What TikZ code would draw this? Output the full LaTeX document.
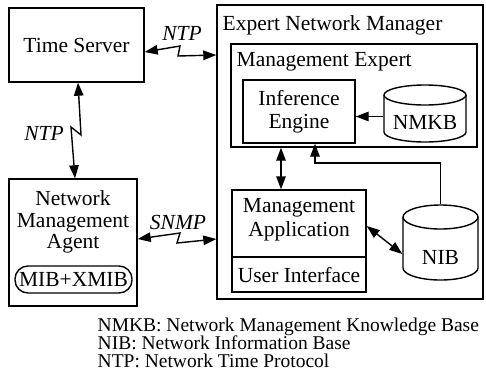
\documentclass[tikz,border=0pt]{standalone}
\usepackage{fontspec}
\setmainfont{Liberation Serif}
\usetikzlibrary{arrows.meta,calc}
\begin{document}
\begin{tikzpicture}[x=1pt,y=-1pt,line width=1.4pt,
  box/.style={draw, inner sep=0pt, line width=1.4pt, align=center,
              font=\fontsize{21.5}{23}\selectfont},
  lbl/.style={font=\fontsize{21.5}{23}\selectfont, align=center, inner sep=0pt},
  proto/.style={font=\fontsize{21.5}{23}\selectfont\itshape, inner sep=0pt},
  legend/.style={font=\fontsize{19.5}{18}\selectfont, anchor=base west, inner sep=0pt},
  tip/.tip={Triangle[length=13pt,width=9.5pt]},
  dbl/.style={tip-tip},
  one/.style={-tip},
]
\useasboundingbox (0,0) rectangle (486,375);

% left column
\node[box, minimum width=135, minimum height=74] (ts) at (76.5,45) {Time Server};
\node[box, minimum width=128, minimum height=127] (nma) at (73,242.5) {};
\node[lbl, font=\fontsize{21.5}{21.5}\selectfont] (nmatxt) at (73,222) {Network\\Management\\Agent};
\node[box, rounded corners=13, minimum width=117, minimum height=27] (mib) at (73.5,279.5) {MIB+XMIB};

% expert network manager
\node[box, minimum width=266, minimum height=294] (enm) at (350,152) {};
\node[lbl, anchor=west] (enmtitle) at (222,25) {Expert Network Manager};
\node[box, minimum width=246, minimum height=103] (me) at (354,95.5) {};
\node[lbl, anchor=west] (metitle) at (236,62) {Management Expert};
\node[box, minimum width=112, minimum height=63] (ie) at (299,111.5) {Inference\\Engine};

% management application with user interface strip
\node[box, minimum width=134, minimum height=102] (ma) at (299,241) {};
\node[lbl, font=\fontsize{21.5}{24}\selectfont] (matxt) at (299,220) {Management\\Application};
\draw (ma.west |- 0,257) -- (ma.east |- 0,257);
\node[lbl] (uitxt) at (299,275) {User Interface};

% NMKB cylinder
\node[inner sep=0pt, minimum width=82, minimum height=57] (nmkb) at (425,113.5) {};
\draw (425,95) ellipse [x radius=41, y radius=10];
\draw (384,95) -- (384,132) arc[start angle=180, end angle=0, x radius=41, y radius=10] -- (466,95);
\node[lbl] (nmkbtxt) at (425,122) {NMKB};

% NIB cylinder
\node[inner sep=0pt, minimum width=75, minimum height=75] (nib) at (440.5,242.5) {};
\draw (440.5,217) ellipse [x radius=37.5, y radius=12];
\draw (403,217) -- (403,268) arc[start angle=180, end angle=0, x radius=37.5, y radius=12] -- (478,217);
\node[lbl] (nibtxt) at (440.5,257) {NIB};

% protocol links
\draw[dbl] ([yshift=-7pt]ts.east) -- (180,46) -- (178,56) -- (enm.west |- 0,55);
\node[proto] (ntp1) at (182,33) {NTP};
\draw[dbl] (ts.south -| 78,0) -- (81,135) -- (71,127) -- (nma.north -| 75,0);
\node[proto] (ntp2) at (44,133) {NTP};
\draw[dbl] (nma.east |- 0,239) -- (180,233) -- (177,243) -- (enm.west |- 0,239);
\node[proto] (snmp) at (178,222) {SNMP};

% internal connectors
\draw[one] ([yshift=-3pt]nmkb.west) -- ([yshift=-3pt]nmkb.west -| ie.east);
\draw[dbl] (me.south -| 281,0) -- (ma.north -| 281,0);
\draw[one] (nib.north) |- (315,163) -- (ie.south -| 315,0);
\draw[dbl] ([yshift=15pt]ma.east) -- ([yshift=-11.5pt]nib.west);

% legend
\node[legend] (leg1) at (97,331) {NMKB: Network Management Knowledge Base};
\node[legend] (leg2) at (97,349) {NIB: Network Information Base};
\node[legend] (leg3) at (97,367) {NTP: Network Time Protocol};
\end{tikzpicture}
\end{document}
